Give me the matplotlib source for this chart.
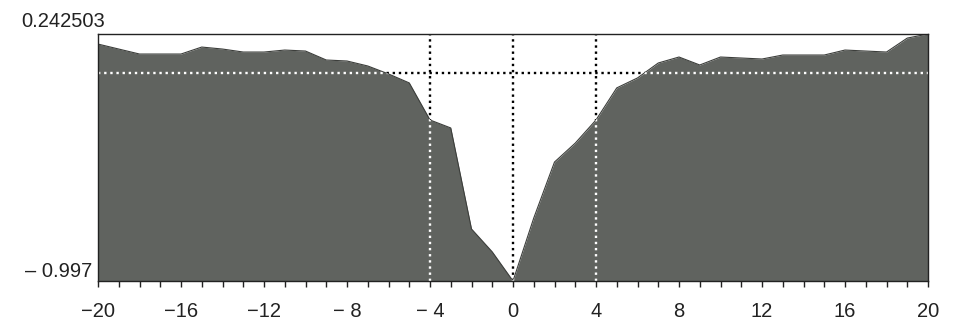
import matplotlib
matplotlib.use("Agg")
import matplotlib.pyplot as plt
import numpy as np

# Data
x_vals = list(range(-20, 21))
y_vals = [0.192, 0.167, 0.142, 0.142, 0.142, 0.177, 0.167, 0.152, 0.152, 0.162,
          0.157, 0.112, 0.107, 0.082, 0.042, -0.003, -0.189, -0.229, -0.736, -0.851,
          -0.997, -0.681, -0.400, -0.305, -0.189, -0.028, 0.022, 0.097, 0.127, 0.087,
          0.127, 0.122, 0.117, 0.137, 0.137, 0.137, 0.162, 0.157, 0.152, 0.222,
          0.242503]
y_top = 0.242503
y_bottom = -0.997
h_ref = 0.047
v_refs = [-4, 0, 4]
tick_pos = [-20, -16, -12, -8, -4, 0, 4, 8, 12, 16, 20]
tick_labels = ["\u221220", "\u221216", "\u221212", "\u2212 8", "\u2212 4", "0", "4", "8", "12", "16", "20"]

plt.rcParams['font.family'] = ['Liberation Sans', 'DejaVu Sans']

fig = plt.figure(figsize=(9.59, 3.22), dpi=100)
ax = fig.add_axes([98/959, 1-281/322, (928-98)/959, (281-34)/322])
ax.set_xlim(-20, 20)
ax.set_ylim(y_bottom, y_top)

fill_color = '#60635f'
dot = (0, (1, 1.6))

# black dotted lines (visible on white)
for v in v_refs:
    ax.axvline(v, color='black', lw=1.7, ls=dot, zorder=1)
ax.axhline(h_ref, color='black', lw=1.7, ls=dot, zorder=1)

poly = ax.fill_between(x_vals, y_vals, y_bottom, color=fill_color, lw=0, zorder=2)
ax.plot(x_vals, y_vals, color='#3c3e3b', lw=0.8, zorder=3)

clip = poly.get_paths()[0]
for v in v_refs:
    l = ax.axvline(v, color='white', lw=1.7, ls=dot, zorder=4)
    l.set_clip_path(clip, ax.transData)
l = ax.axhline(h_ref, color='white', lw=1.7, ls=dot, zorder=4)
l.set_clip_path(clip, ax.transData)

for s in ['top', 'right', 'bottom', 'left']:
    ax.spines[s].set_color('#222222')
    ax.spines[s].set_linewidth(1.0)
    ax.spines[s].set_zorder(5)

ax.set_xticks(tick_pos)
ax.set_xticklabels(tick_labels, fontsize=14.5, color='#222222')
ax.set_xticks(range(-20, 21), minor=True)
ax.tick_params(axis='x', which='both', direction='out', length=4, width=1, color='#222222', pad=11)
ax.set_yticks([])

fig.text(21/959, 1-21.5/322, "0.242503", fontsize=14.5, color='#222222', ha='left', va='center')
fig.text(92/959, 1-271.5/322, "\u2013 0.997", fontsize=14.5, color='#222222', ha='right', va='center')

fig.savefig("out.png", dpi=100)
